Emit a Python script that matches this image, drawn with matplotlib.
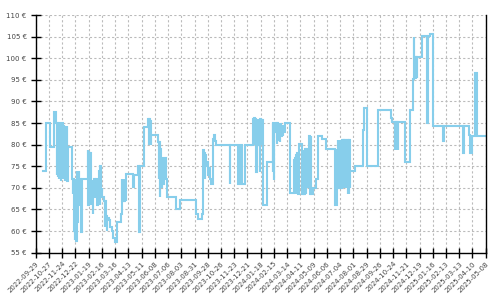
from datetime import date, timedelta

import matplotlib

matplotlib.use("Agg")
import matplotlib.dates as mdates
import matplotlib.pyplot as plt


START = date(2022, 9, 29)
END = date(2025, 5, 8)

# days after START, price in euro (step series)
DAY_OFFSETS = [
    16, 22, 30, 39, 44, 45, 46, 47, 48, 49, 50, 51, 52, 53, 54, 55, 56, 57,
    58, 59, 60, 61, 62, 63, 64, 65, 66, 67, 68, 77, 78, 79, 80, 81, 82, 83,
    84, 85, 86, 87, 88, 89, 90, 91, 92, 96, 99, 110, 111, 112, 113, 114, 116,
    117, 118, 119, 120, 121, 122, 124, 126, 128, 130, 132, 134, 135, 136, 138,
    140, 141, 144, 146, 147, 149, 150, 151, 155, 158, 161, 164, 167, 172, 180,
    182, 183, 184, 185, 186, 187, 188, 189, 190, 191, 192, 205, 209, 216, 219,
    221, 230, 238, 239, 240, 241, 242, 243, 244, 258, 260, 261, 262, 264, 265,
    266, 267, 268, 270, 271, 272, 274, 276, 277, 297, 305, 339, 343, 352, 354,
    356, 357, 358, 359, 361, 362, 364, 366, 368, 370, 375, 377, 379, 382, 410,
    412, 428, 433, 437, 443, 460, 461, 462, 463, 464, 465, 466, 467, 468, 469,
    470, 471, 472, 473, 474, 475, 476, 477, 478, 479, 480, 481, 490, 501, 502,
    503, 504, 505, 506, 508, 510, 511, 513, 514, 516, 517, 519, 521, 523, 524,
    527, 538, 547, 548, 549, 550, 551, 552, 553, 554, 556, 557, 558, 563, 564,
    565, 566, 567, 568, 570, 571, 572, 573, 579, 580, 582, 583, 587, 594, 598,
    605, 614, 633, 637, 638, 639, 640, 641, 642, 643, 644, 645, 646, 647, 648,
    649, 650, 651, 652, 653, 654, 655, 656, 657, 658, 659, 660, 661, 662, 663,
    664, 665, 675, 693, 695, 700, 725, 751, 753, 760, 761, 762, 763, 764, 765,
    766, 767, 782, 792, 799, 800, 801, 802, 803, 804, 805, 806, 807, 818, 828,
    829, 834, 840, 861, 863, 904, 907, 916, 918, 922, 929, 933, 950,
]
PRICES = [
    74, 85, 79.5, 87.6, 85, 73, 85, 72.5, 84.5, 72, 85, 73, 84, 71.7, 84.5,
    72.5, 85, 72, 84.3, 72, 84, 71.7, 84.3, 72.5, 84, 72, 84.3, 71.7, 79.5,
    72, 68.6, 72, 65, 72, 60, 58, 65, 72, 57.8, 73.9, 62, 73.9, 66, 73.9, 72,
    59.8, 72, 78.7, 66, 78.5, 70, 78, 72, 66, 71, 69, 71.5, 64, 71, 72, 68,
    72, 66, 70, 74, 66, 75, 69, 70, 68, 67, 61, 67, 63.5, 60, 63, 62.5, 61,
    60, 58.5, 57.5, 62, 64, 72, 67, 72, 67, 71.5, 67, 72, 67.5, 72, 67, 73.3,
    70.2, 73, 75, 59.8, 75, 84, 86, 80, 86, 80, 85.5, 80, 82.3, 80.6, 72,
    80.6, 68, 79, 73, 76, 70, 77, 71, 76, 72.5, 77, 72, 68, 65.2, 67.1, 64,
    62.9, 64, 78.7, 74, 78, 72, 77.5, 75, 76, 73, 74.5, 72, 71, 81.4, 82.3,
    80.8, 80, 70.8, 79.9, 70.8, 79.9, 70.8, 80, 86, 80, 86.2, 80, 86, 80, 86,
    73.7, 86, 80, 86, 80, 86, 80, 73.7, 86, 80, 85.8, 80.2, 85.8, 80.2, 66,
    76, 84.9, 73.7, 84.9, 71.8, 84, 83, 84.9, 80.2, 85, 81, 84.5, 80.5, 84.8,
    82, 84.2, 82, 83, 85, 68.8, 76.5, 68.6, 77, 68.8, 77.5, 68.6, 78, 68.6,
    79, 68.8, 80.2, 78.9, 68.6, 78.5, 68.6, 78.7, 68.6, 79, 68.6, 79, 70.2,
    82, 68.6, 82, 68.6, 70, 72.1, 82, 81.2, 78.9, 66, 78.9, 70, 81, 70, 81,
    70.3, 81, 70, 81, 70, 81, 70.3, 81, 70, 81, 70, 81, 70.3, 81, 70, 80.8,
    70, 81, 68.6, 81, 68.6, 81, 70, 74, 75, 83.5, 88.5, 75, 88.1, 86.2, 85.2,
    78.8, 85.2, 78.8, 85.2, 78.8, 85.2, 78.8, 85.2, 76.1, 88.1, 95.1, 105,
    100.1, 95.1, 100.2, 95.2, 100.3, 95.5, 100.3, 105.2, 85, 105.2, 105.5,
    84.2, 80.9, 84.2, 78, 84.2, 82.3, 78, 82.1, 96.6, 82.1, 82.1,
]
Y_TICKS = [55, 60, 65, 70, 75, 80, 85, 90, 95, 100, 105, 110]
TICK_STEP_DAYS = 28

LINE_COLOR = "#87ceeb"
TEXT_COLOR = "#444444"


def main() -> None:
    dates = [START + timedelta(days=d) for d in DAY_OFFSETS]

    fig = plt.figure(figsize=(5, 3), dpi=100)
    ax = fig.add_axes([0.0714, 0.1577, 0.9, 0.7923])

    ax.plot(dates, PRICES, drawstyle="steps-post", color=LINE_COLOR,
            linewidth=1.5, solid_joinstyle="miter")

    x_ticks = []
    tick = START
    while tick <= END:
        x_ticks.append(tick)
        tick += timedelta(days=TICK_STEP_DAYS)

    ax.set_xlim(START, END)
    ax.set_ylim(Y_TICKS[0], Y_TICKS[-1])
    ax.set_xticks(x_ticks)
    ax.xaxis.set_major_formatter(mdates.DateFormatter("%Y-%m-%d"))
    ax.set_yticks(Y_TICKS)
    ax.set_yticklabels([f"{v} €" for v in Y_TICKS])

    for label in ax.get_xticklabels():
        label.set_rotation(45)
        label.set_ha("right")
        label.set_rotation_mode("anchor")

    ax.tick_params(direction="inout", length=7, width=1, colors="black",
                   labelcolor=TEXT_COLOR, labelsize=5)
    ax.tick_params(axis="x", pad=2)
    ax.tick_params(axis="y", pad=3)

    ax.grid(True, color="#bbbbbb", linestyle=(0, (2, 2)), linewidth=0.8)
    ax.set_axisbelow(True)

    ax.spines["top"].set_visible(False)
    for side in ("left", "bottom", "right"):
        ax.spines[side].set_linewidth(1)
        ax.spines[side].set_color("black")

    fig.savefig("out.png", dpi=100)
    plt.close(fig)


if __name__ == "__main__":
    main()
